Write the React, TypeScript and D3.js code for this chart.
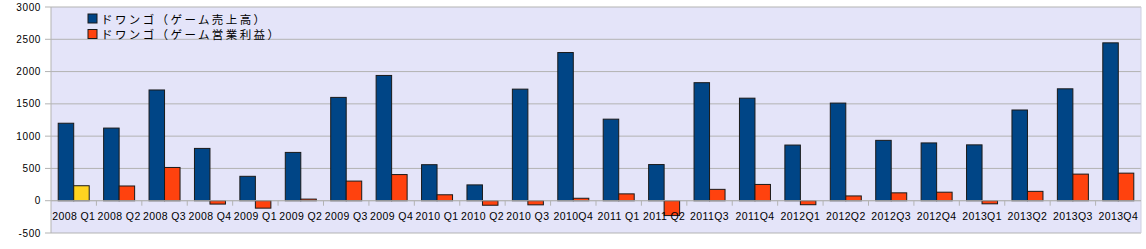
import React from "react";
import * as d3 from "d3";

const categories = [
  "2008 Q1", "2008 Q2", "2008 Q3", "2008 Q4",
  "2009 Q1", "2009 Q2", "2009 Q3", "2009 Q4",
  "2010 Q1", "2010 Q2", "2010 Q3", "2010Q4",
  "2011 Q1", "2011 Q2", "2011Q3", "2011Q4",
  "2012Q1", "2012Q2", "2012Q3", "2012Q4",
  "2013Q1", "2013Q2", "2013Q3", "2013Q4",
];
const sales = [
  1200, 1125, 1715, 810,
  378, 748, 1600, 1940,
  558, 245, 1728, 2295,
  1263, 560, 1828, 1588,
  862, 1512, 935, 895,
  865, 1405, 1733, 2445,
];
const profit = [
  232, 228, 515, -52,
  -115, 25, 304, 405,
  92, -70, -64, 38,
  106, -230, 176, 252,
  -62, 74, 122, 132,
  -48, 145, 412, 427,
];
const yTicks = [-500, 0, 500, 1000, 1500, 2000, 2500, 3000];
const seriesNames = ["ドワンゴ（ゲーム売上高）", "ドワンゴ（ゲーム営業利益）"];
const seriesColors = ["#004586", "#ff420e"];
const highlightColor = "#ffd320";
const highlightIndex = 0;

export default function App() {
  const W = 1146, H = 249;
  const left = 51, right = 1141, top = 7, bottom = 233;
  const y = d3.scaleLinear().domain([-500, 3000]).range([bottom, top]);
  const x0 = d3.scaleBand<string>().domain(categories).range([left, right]);
  const x1 = d3
    .scaleBand<string>()
    .domain(["sales", "profit"])
    .range([0, x0.bandwidth()])
    .paddingInner(0)
    .paddingOuter(0.465);
  const y0 = y(0);
  const font = "'Liberation Sans', Arial, sans-serif";
  const cjk = "'Noto Sans CJK JP', sans-serif";

  return (
    <svg
      width={W}
      height={H}
      style={{ position: "absolute", left: 0, top: 0, background: "#fff" }}
    >
      <rect x={left} y={top} width={right - left} height={bottom - top} fill="#e4e4f9" />
      {yTicks.map((t) => (
        <g key={t}>
          <line x1={left - 6} x2={right} y1={y(t)} y2={y(t)} stroke="#b3b3b3" strokeWidth={1} />
          <text
            x={41}
            y={y(t)}
            dy="0.35em"
            textAnchor="end"
            fontFamily={font}
            fontSize={10}
            letterSpacing={0.6}
            fill="#000"
          >
            {t}
          </text>
        </g>
      ))}
      <line x1={left} x2={left} y1={top} y2={bottom} stroke="#b3b3b3" />
      <line x1={right} x2={right} y1={top} y2={bottom} stroke="#d0d0e0" />
      {categories.map((c, i) => (
        <g key={c}>
          <rect
            x={(x0(c) ?? 0) + (x1("sales") ?? 0)}
            y={y(Math.max(0, sales[i]))}
            width={x1.bandwidth()}
            height={Math.abs(y(sales[i]) - y0)}
            fill={seriesColors[0]}
            stroke="#1a1a1a"
            strokeWidth={1}
          />
          <rect
            x={(x0(c) ?? 0) + (x1("profit") ?? 0)}
            y={y(Math.max(0, profit[i]))}
            width={x1.bandwidth()}
            height={Math.abs(y(profit[i]) - y0)}
            fill={i === highlightIndex ? highlightColor : seriesColors[1]}
            stroke="#1a1a1a"
            strokeWidth={1}
          />
        </g>
      ))}
      <line x1={left} x2={right} y1={y0} y2={y0} stroke="#b3b3b3" />
      {categories.map((c, i) => (
        <g key={"t" + c}>
          {i > 0 && (
            <line
              x1={x0(c) ?? 0}
              x2={x0(c) ?? 0}
              y1={y0}
              y2={y0 + 5}
              stroke="#b3b3b3"
            />
          )}
          <text
            x={(x0(c) ?? 0) + x0.bandwidth() / 2}
            y={220}
            textAnchor="middle"
            fontFamily={font}
            fontSize={10.5}
            letterSpacing={0.4}
            fill="#000"
          >
            {c}
          </text>
        </g>
      ))}
      {seriesNames.map((n, i) => (
        <g key={n} transform={`translate(88, ${14 + i * 15.5})`}>
          <rect x={0} y={0} width={9} height={9} fill={seriesColors[i]} stroke="#1a1a1a" />
          <text x={13} y={9.5} fontFamily={cjk} fontSize={11.5} letterSpacing={2.4} fill="#000">
            {n}
          </text>
        </g>
      ))}
    </svg>
  );
}
